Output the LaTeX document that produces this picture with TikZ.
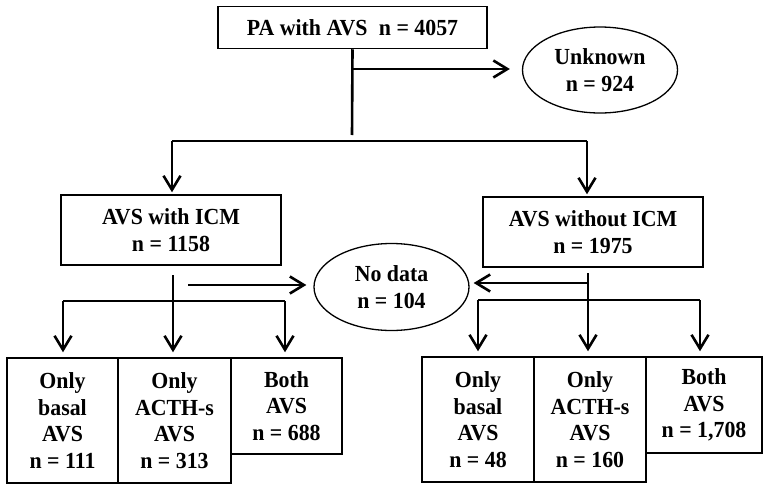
\documentclass[tikz,border=0pt]{standalone}
\usepackage{fontspec}
\setmainfont{Liberation Serif}[FakeStretch=0.95]
\usetikzlibrary{arrows.meta,shapes.geometric}
\begin{document}
\begin{tikzpicture}[x=1pt,y=-1pt,
  txt/.style={font=\fontsize{23}{26.5}\selectfont\bfseries, align=center, inner sep=0pt},
  box/.style={txt, draw, line width=1.5pt, rectangle},
  oval/.style={txt, draw, line width=1.3pt, ellipse},
  conn/.style={line width=2.6pt},
  arr/.style={conn, -{Straight Barb[length=14pt,width=17pt]}}
]
\useasboundingbox[fill=white] (0,0) rectangle (768,490);
% nodes
\node[box, minimum width=269pt, minimum height=42pt] (top) at (352.5,27.5) {PA with AVS\hspace{0.5em}n = 4057};
\node[oval, minimum width=155pt, minimum height=86pt] (unk) at (600,70) {Unknown\\n = 924};
\node[box, minimum width=220pt, minimum height=70pt] (icm) at (171,230) {AVS with ICM\\n = 1158};
\node[box, minimum width=220pt, minimum height=70pt] (noicm) at (593,232) {AVS without ICM\\n = 1975};
\node[oval, minimum width=155pt, minimum height=87pt] (nod) at (391.5,287) {No data\\n = 104};
\node[box, minimum width=111pt, minimum height=125pt] (l1) at (62.5,420.5) {Only\\basal\\AVS\\n = 111};
\node[box, minimum width=113pt, minimum height=125pt] (l2) at (174.5,420.5) {Only\\ACTH-s\\AVS\\n = 313};
\node[box, minimum width=111pt, minimum height=96pt] (l3) at (286.5,406) {Both\\AVS\\n = 688};
\node[box, minimum width=112pt, minimum height=125pt] (r1) at (478,419.5) {Only\\basal\\AVS\\n = 48};
\node[box, minimum width=112pt, minimum height=125pt] (r2) at (590,419.5) {Only\\ACTH-s\\AVS\\n = 160};
\node[box, minimum width=116pt, minimum height=96pt] (r3) at (704,405) {Both\\AVS\\n = 1,708};
% junction coordinates
\coordinate (t1) at (352,135);
\coordinate (ta) at (352,69);
\coordinate (bl) at (172,141);
\coordinate (br) at (587,141);
\coordinate (ls) at (173,275);
\coordinate (lbl) at (63,301);
\coordinate (lbr) at (285,301);
\coordinate (la) at (188,285);
\coordinate (rs) at (588,273);
\coordinate (rbl) at (478,300);
\coordinate (rbr) at (700,300);
\coordinate (ra) at (589,283);
% top level
\draw[conn] (top.south) -- (t1);
\draw[arr, shorten >=12pt] (ta) -- (ta -| unk.west);
\draw[conn] (bl) -- (br);
\draw[arr, shorten >=2pt] (bl) -- (bl |- icm.north);
\draw[arr, shorten >=2pt] (br) -- (br |- noicm.north);
% left branch
\draw[arr, shorten >=5pt] (ls) -- (ls |- l2.north);
\draw[conn] (lbl) -- (lbr);
\draw[arr, shorten >=5pt] (lbl) -- (lbl |- l1.north);
\draw[arr, shorten >=5pt] (lbr) -- (lbr |- l3.north);
\draw[arr, shorten >=7pt] (la) -- (la -| nod.west);
% right branch
\draw[arr, shorten >=5pt] (rs) -- (rs |- r2.north);
\draw[conn] (rbl) -- (rbr);
\draw[arr, shorten >=5pt] (rbl) -- (rbl |- r1.north);
\draw[arr, shorten >=5pt] (rbr) -- (rbr |- r3.north);
\draw[arr, shorten >=4pt] (ra) -- (ra -| nod.east);
\end{tikzpicture}
\end{document}
